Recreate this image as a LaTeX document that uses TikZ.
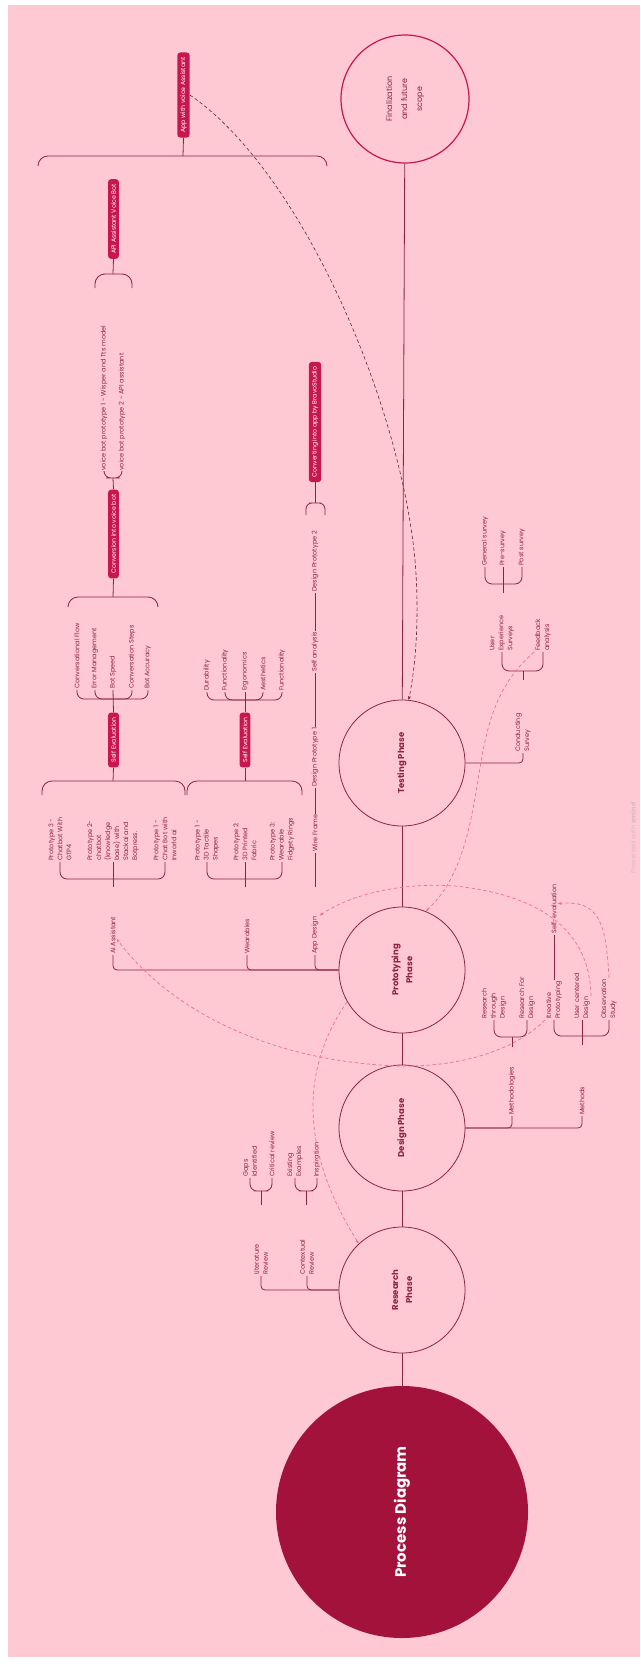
\documentclass[tikz,border=0pt]{standalone}
\usepackage{fontspec}
\setmainfont{Poppins}
\usetikzlibrary{arrows.meta}
\definecolor{bgpink}{HTML}{FFC9D4}
\definecolor{deepred}{HTML}{A3123A}
\definecolor{linec}{HTML}{8A2442}
\definecolor{tagred}{HTML}{C8174E}
\definecolor{relpink}{HTML}{E8728F}
\definecolor{reldark}{HTML}{6B1F33}
\definecolor{markc}{HTML}{DDB9C2}

\begin{document}
\begin{tikzpicture}[x=1pt,y=-1pt,
  phase/.style={circle,draw=linec,line width=0.8pt,minimum size=126pt,inner sep=0pt,align=center,rotate=90,text=linec,font=\fontsize{8.5}{14}\selectfont\bfseries},
  leaf/.style={rotate=90,anchor=west,inner sep=1pt,align=left,text=linec,font=\fontsize{6.5}{9}\selectfont},
  tag/.style={rotate=90,fill=tagred,text=white,rounded corners=3pt,inner xsep=5pt,inner ysep=3pt,font=\fontsize{6.2}{8}\selectfont},
  branch/.style={draw=linec,line width=0.8pt,rounded corners=4pt},
  split/.style={branch,rounded corners=7pt},
  brace/.style={branch,rounded corners=10pt},
  rel/.style={draw=relpink,line width=0.7pt,dash pattern=on 3.5pt off 2.5pt,-{Stealth[length=4pt]}},
  reldk/.style={draw=reldark,line width=0.6pt,dash pattern=on 3.5pt off 2.5pt,-{Stealth[length=4pt]}}]
\fill[bgpink] (8,5) rectangle (640,1657);
\useasboundingbox (0,0) rectangle (640,1664);

\node[phase,fill=deepred,draw=none,minimum size=252pt,text=white,font=\fontsize{15}{18}\selectfont\bfseries] (process) at (402,1512) {Process Diagram};
\node[phase] (research) at (402,1290) {Research\\Phase};
\node[phase] (design) at (402,1128) {Design Phase};
\node[phase] (proto) at (402,970) {Prototyping\\Phase};
\node[phase] (testing) at (402,763) {Testing Phase};
\node[phase,draw=tagred,line width=1.2pt,minimum size=128pt,font=\fontsize{8}{15}\selectfont] (final) at (405,99) {Finalization\\and future\\scope};
\foreach \a/\b in {process/research,research/design,design/proto,proto/testing,testing/final}
  \draw[branch] (\a) -- (\b);

% research phase
\node[leaf] (litrev) at (261,1276) {Literature\\Review};
\node[leaf] (contrev) at (307,1276) {Contextual\\Review};
\draw[branch] (research.north) -| (litrev.west);
\draw[branch] (research.north) -| (contrev.west);
\node[leaf] (gaps) at (250,1178) {Gaps\\Identified};
\node[leaf] (critrev) at (272,1178) {Critical review};
\node[leaf] (exist) at (295,1178) {Existing\\Examples};
\node[leaf] (inspir) at (317,1178) {Inspiration};
\coordinate (jlit) at (261,1191); \coordinate (slit) at (261,1205);
\coordinate (jcon) at (306,1191); \coordinate (scon) at (306,1205);
\draw[split] (gaps.west) |- (jlit) -| (critrev.west);
\draw[split] (exist.west) |- (jcon) -| (inspir.west);
\draw[branch] (slit) -- (jlit);
\draw[branch] (scon) -- (jcon);

% design phase
\node[leaf] (methodol) at (512,1116) {Methodologies};
\node[leaf] (methods) at (582,1116) {Methods};
\draw[branch] (design.south) -| (methodol.west);
\draw[branch] (design.south) -| (methods.west);
\node[leaf] (rtd) at (494,1020) {Research\\through\\Design};
\node[leaf] (rfd) at (527,1020) {Research For\\Design};
\coordinate (jmeth) at (512,1037); \coordinate (smeth) at (512,1047);
\draw[split] (rtd.west) |- (jmeth) -| (rfd.west);
\draw[branch] (smeth) -- (jmeth);
\node[leaf] (itp) at (554,1020) {Itreative\\Prototyping};
\node[leaf] (ucd) at (582,1020) {User centered\\Design};
\node[leaf] (obs) at (609,1020) {Observation\\Study};
\coordinate (jmtd) at (582,1036); \coordinate (smtd) at (582,1045);
\draw[split] (itp.west) |- (jmtd) -| (obs.west);
\draw[branch] (ucd.west) -- (smtd);
\node[leaf] (selfev) at (554,935) {Self-evaluation};
\draw[branch] (itp.east) -- (selfev.west);

% prototyping phase
\node[leaf] (aiass) at (113,955) {AI Assistant};
\node[leaf] (wear) at (247,955) {Wearables};
\node[leaf] (appdes) at (315,955) {App Design};
\draw[branch] (proto.north) -| (aiass.west);
\draw[branch] (proto.north) -| (wear.west);
\draw[branch] (proto.north) -| (appdes.west);

\node[leaf] (aip3) at (60,862) {Prototype 3 -\\Chatbot With\\GTP4};
\node[leaf] (aip2) at (113,862) {Prototype 2-\\chatbot\\(knowledge\\base) with\\Stackai and\\Botpress.};
\node[leaf] (aip1) at (165,862) {Prototype 1 -\\Chat Bot with\\Inworld ai};
\coordinate (jai) at (113,879); \coordinate (sai) at (113,887);
\draw[split] (aip3.west) |- (jai) -| (aip1.west);
\draw[branch] (aip2.west) -- (sai);
\coordinate (bl1) at (42,795); \coordinate (bt1) at (113,781); \coordinate (br1) at (185,795);
\draw[brace] (bl1) |- (bt1) -| (br1);
\node[tag] (selfai) at (113.5,740) {Self Evaluation};
\draw[branch] (bt1) -- (selfai.west);
\node[leaf] (flow) at (77,690) {Conversational Flow};
\node[leaf] (errm) at (95,690) {Error Management};
\node[leaf] (speed) at (113,690) {Bot Speed};
\node[leaf] (steps) at (132,690) {Conversation Steps};
\node[leaf] (accur) at (148,690) {Bot Accuracy};
\coordinate (jev) at (113,699);
\draw[split] (flow.west) |- (jev) -| (accur.west);
\draw[split] (errm.west) |- (jev);
\draw[split] (steps.west) |- (jev);
\draw[branch] (selfai.east) -- (speed.west);
\coordinate (bl2) at (68,607); \coordinate (bt2) at (113,597); \coordinate (br2) at (158,607);
\draw[brace] (bl2) |- (bt2) -| (br2);
\node[tag] (voiceconv) at (113.5,534) {Conversion into voice bot};
\draw[branch] (bt2) -- (voiceconv.west);
\node[leaf] (vbot1) at (104,472) {voice bot prototype 1 - Wisper and Tts model};
\node[leaf] (vbot2) at (122,472) {voice bot prototype 2 - API assistant};
\coordinate (jvb) at (113,478);
\draw[split] (vbot1.west) |- (jvb) -| (vbot2.west);
\draw[branch] (voiceconv.east) -- (jvb);
\coordinate (bl3) at (95,288); \coordinate (bt3) at (113,274); \coordinate (br3) at (132,288);
\draw[brace] (bl3) |- (bt3) -| (br3);
\node[tag] (apibot) at (113.5,219) {API Assistant Voice Bot};
\draw[branch] (bt3) -- (apibot.west);

\node[leaf] (wp1) at (207,862) {Prototype 1 -\\3D Tactile\\Shapes};
\node[leaf] (wp2) at (245,862) {Prototype 2:\\3D Printed\\Fabric};
\node[leaf] (wp3) at (282,862) {Prototype 3:\\Wearable\\Fidgety Rings};
\coordinate (jwe) at (245,879); \coordinate (swe) at (245,887);
\draw[split] (wp1.west) |- (jwe) -| (wp3.west);
\draw[branch] (wp2.west) -- (swe);
\coordinate (bl4) at (187,795); \coordinate (bt4) at (245,781); \coordinate (br4) at (302,795);
\draw[brace] (bl4) |- (bt4) -| (br4);
\node[tag] (selfwe) at (245,740) {Self Evaluation};
\draw[branch] (bt4) -- (selfwe.west);
\node[leaf] (durab) at (207,692) {Durability};
\node[leaf] (func1) at (225,692) {Functionality};
\node[leaf] (ergo) at (245,692) {Ergonomics};
\node[leaf] (aesth) at (263,692) {Aesthetics};
\node[leaf] (func2) at (282,692) {Functionality};
\coordinate (jwv) at (245,700);
\draw[split] (durab.west) |- (jwv) -| (func2.west);
\draw[split] (func1.west) |- (jwv);
\draw[split] (aesth.west) |- (jwv);
\draw[branch] (selfwe.east) -- (ergo.west);

\coordinate (sapp) at (315,887);
\node[leaf] (wire) at (315,853) {Wire Frame};
\node[leaf] (dproto1) at (315,788) {Design Prototype 1};
\node[leaf] (selfan) at (315,673) {Self analysis};
\node[leaf] (dproto2) at (315,593) {Design Prototype 2};
\draw[branch] (sapp) -- (wire.west);
\draw[branch] (wire.east) -- (dproto1.west);
\draw[branch] (dproto1.east) -- (selfan.west);
\draw[branch] (selfan.east) -- (dproto2.west);
\coordinate (bl5) at (306,515); \coordinate (bt5) at (315,503); \coordinate (br5) at (325,515);
\draw[brace,rounded corners=6pt] (bl5) |- (bt5) -| (br5);
\node[tag] (bravo) at (315,422) {Converting into app by BravoStudio};
\draw[branch] (bt5) -- (bravo.west);

\coordinate (bl6) at (38,166); \coordinate (bt6) at (183,156); \coordinate (br6) at (327,166);
\draw[brace] (bl6) |- (bt6) -| (br6);
\node[tag] (appva) at (183.5,95) {App with voice Assistant};
\draw[branch] (bt6) -- (appva.west);

% testing phase
\node[leaf] (condsv) at (523,753) {Conducting\\Survey};
\draw[branch] (testing.south) -| (condsv.west);
\node[leaf] (uxs) at (502,652) {User\\Experience\\Surveys};
\node[leaf] (fban) at (543,652) {Feedback\\analysis};
\coordinate (jcs) at (523,671); \coordinate (scs) at (523,680);
\draw[split] (uxs.west) |- (jcs) -| (fban.west);
\draw[branch] (jcs) -- (scs);
\node[leaf] (gensv) at (485,567) {General survey};
\node[leaf] (presv) at (503,567) {Pre-survey};
\node[leaf] (postsv) at (522,567) {Post survey};
\coordinate (jux) at (503,584); \coordinate (sux) at (503,593);
\draw[split] (gensv.west) |- (jux) -| (postsv.west);
\draw[branch] (presv.west) -- (sux);

% relationships
\draw[rel] (proto.120) .. controls (300,1070) and (300,1150) .. (research.43);
\draw[rel] (itp.north west) .. controls (510,1055) and (450,1067) .. (400,1066) .. controls (270,1062) and (170,1010) .. (aiass.-135);
\draw[rel] (fban.north west) .. controls (490,690) and (485,740) .. (478,780) .. controls (470,830) and (460,880) .. (proto.-22);
\draw[rel] (ucd.south) .. controls (590,930) and (540,895) .. (455,886) .. controls (400,882) and (350,895) .. (appdes.south east);
\draw[rel] (obs.east) .. controls (606,920) and (598,900) .. (selfev.-35);
\draw[reldk] (appva.south) .. controls (300,170) and (400,400) .. (415,560) .. controls (420,620) and (415,670) .. (testing.-6);

\node[rotate=90,text=markc,font=\fontsize{6.5}{8}\selectfont] (mark) at (633,838) {Presented with \textbf{xmind}};
\end{tikzpicture}
\end{document}
